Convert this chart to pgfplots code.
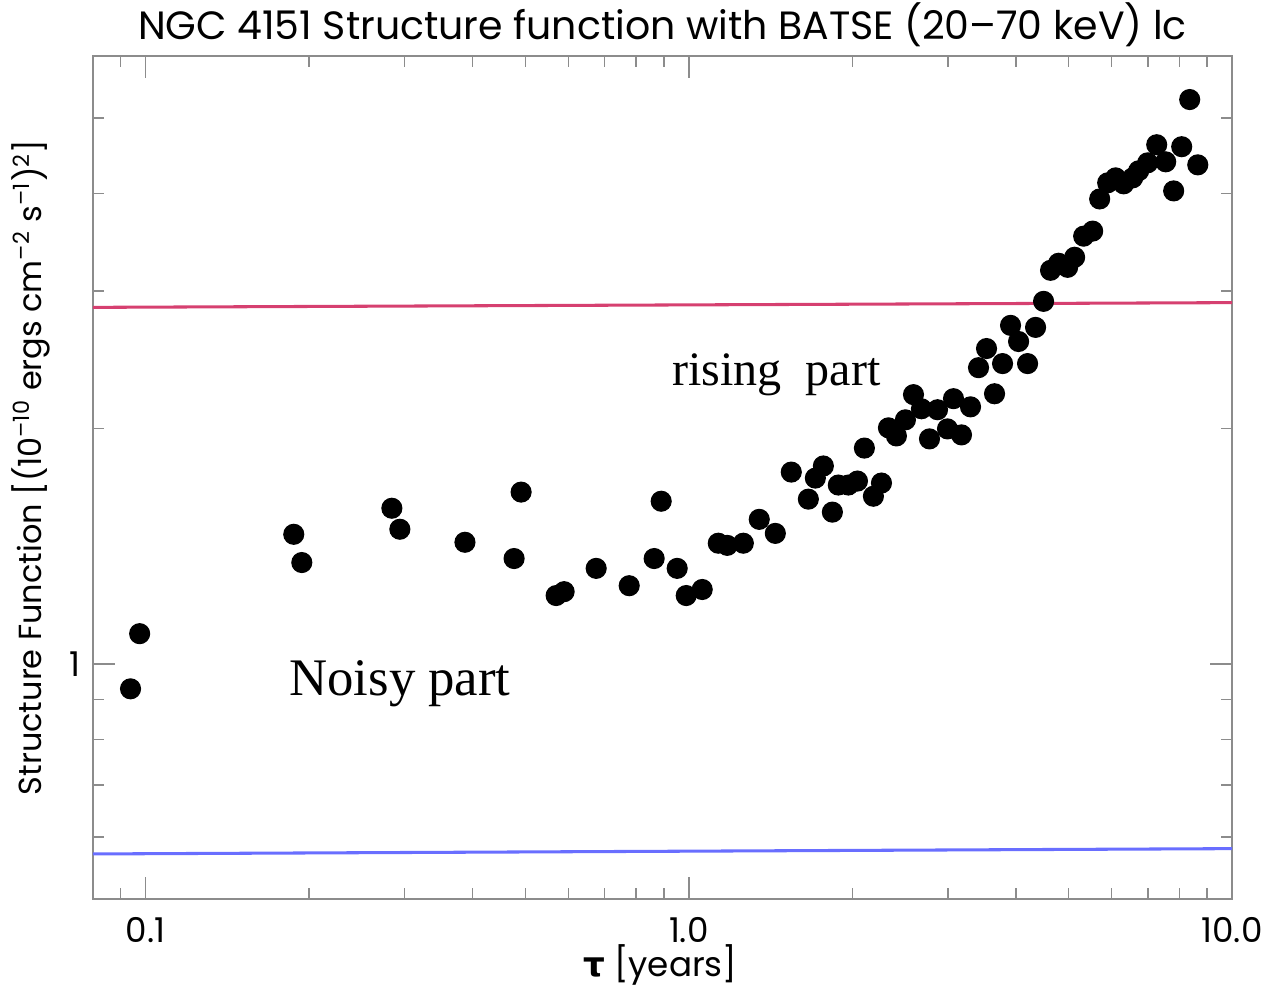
\documentclass[border=0pt]{standalone}
\usepackage{fontspec}
\setmainfont{Poppins}
\newfontfamily\timesfont{Liberation Serif}
\newfontfamily\greekfont{DejaVu Sans}
\usepackage{pgfplots}
\pgfplotsset{compat=1.18}
\definecolor{redline}{RGB}{214,64,112}
\definecolor{blueline}{RGB}{105,110,255}
\begin{document}
\begin{tikzpicture}
\begin{axis}[
  xmode=log, ymode=log,
  scale only axis,
  width=410.04pt, height=303.48pt,
  xmin=0.08, xmax=10, ymin=0.5, ymax=6,
  axis line style={black!45, line width=0.6pt},
  tick style={black!45, line width=0.5pt},
  major tick length=8pt, minor tick length=4pt,
  tick align=inside, tick pos=both,
  xtick={0.1,1,10}, xticklabels={\mbox{0.1},\mbox{1.0},\mbox{10.0}},
  minor xtick={0.09,0.2,0.3,0.4,0.5,0.6,0.7,0.8,0.9,2,3,4,5,6,7,8,9},
  ytick={1}, yticklabels={\mbox{1}},
  minor ytick={0.6,0.7,0.8,0.9,2,3,4,5},
  ticklabel style={font=\fontsize{12.3}{14}\selectfont},
  xticklabel shift=3pt,
  yticklabel shift=1pt,
  every axis title shift=0pt,
  title={NGC 4151 Structure function with BATSE (20–70 keV) lc},
  title style={at={(axis description cs:0.5,1.0191)}, anchor=base, font=\fontsize{14.2}{16}\selectfont, inner sep=0pt},
  xlabel={{\greekfont\bfseries τ} [years]},
  xlabel style={at={(axis description cs:0.498,-0.0920)}, anchor=base, font=\fontsize{12.3}{14}\selectfont, inner sep=0pt},
  ylabel={Structure Function [(10\textsuperscript{–10} ergs cm\textsuperscript{–2} s\textsuperscript{–1})\textsuperscript{2}]},
  ylabel style={at={(axis description cs:-0.0449,0.512)}, anchor=base, font=\fontsize{11.5}{14}\selectfont, inner sep=0pt},
]
\addplot[redline, line width=1.1pt] coordinates {(0.08,2.86) (10,2.90)};
\addplot[blueline, line width=1.1pt] coordinates {(0.08,0.571) (10,0.580)};
\addplot[only marks, mark=*, mark size=3.6pt, black] coordinates {
(0.0938,0.929) (0.0975,1.093) (0.1874,1.465) (0.1939,1.348) (0.2840,1.582)
(0.2938,1.487) (0.3872,1.431) (0.4768,1.364) (0.4912,1.659) (0.5698,1.223)
(0.5895,1.237) (0.6753,1.325) (0.7768,1.259) (0.8634,1.364) (0.8895,1.615)
(0.9519,1.325) (0.989,1.223) (1.0585,1.245) (1.133,1.427) (1.177,1.418)
(1.260,1.427) (1.348,1.531) (1.443,1.469) (1.544,1.760) (1.660,1.625)
(1.710,1.729) (1.769,1.792) (1.838,1.564) (1.885,1.694) (1.967,1.694)
(2.044,1.714) (2.105,1.889) (2.187,1.639) (2.263,1.704) (2.331,2.005)
(2.411,1.958) (2.505,2.053) (2.592,2.211) (2.681,2.121) (2.774,1.941)
(2.870,2.115) (2.994,1.999) (3.071,2.185) (3.177,1.964) (3.301,2.133)
(3.415,2.394) (3.533,2.533) (3.655,2.217) (3.781,2.423) (3.912,2.712)
(4.047,2.586) (4.204,2.423) (4.349,2.696) (4.499,2.911) (4.634,3.190)
(4.795,3.257) (4.982,3.218) (5.132,3.315) (5.332,3.528) (5.540,3.581)
(5.707,3.937) (5.904,4.128) (6.107,4.189) (6.318,4.116) (6.564,4.189)
(6.733,4.277) (6.995,4.379) (7.268,4.619) (7.551,4.392) (7.811,4.031)
(8.080,4.592) (8.359,5.277) (8.650,4.353)
};
\node[font=\timesfont\fontsize{17.3}{20}\selectfont, inner sep=0pt] at (axis cs:1.449,2.345) {rising\ \ part};
\node[font=\timesfont\fontsize{19}{22}\selectfont, inner sep=0pt] at (axis cs:0.294,0.943) {Noisy part};
\end{axis}
\pgfresetboundingbox
\path[use as bounding box] (-33.48pt,-31.32pt) rectangle (423.72pt,323.64pt);
\end{tikzpicture}
\end{document}
